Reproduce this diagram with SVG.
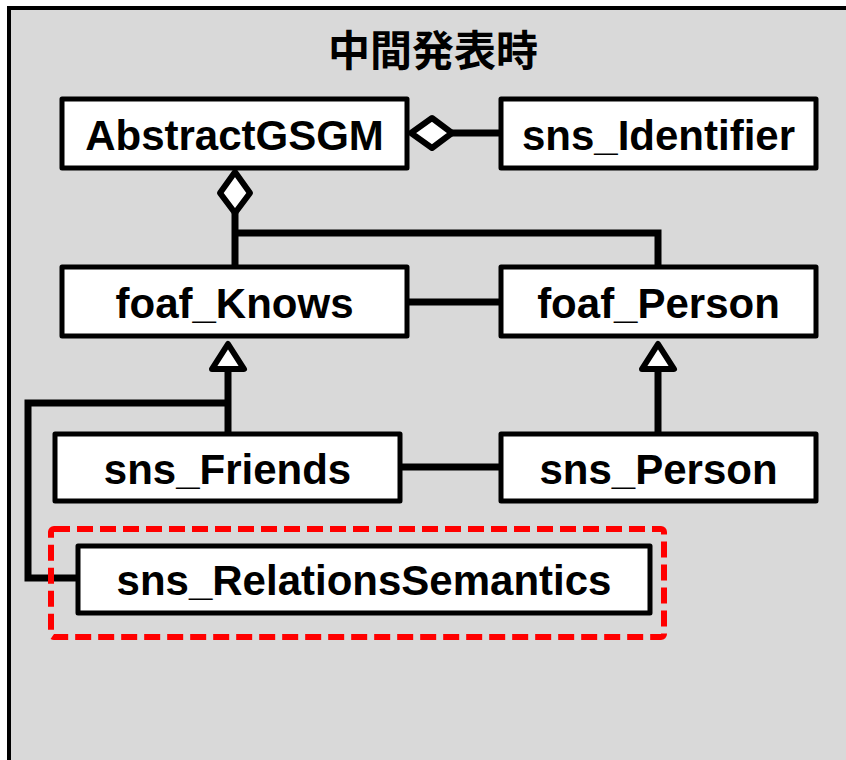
<svg xmlns="http://www.w3.org/2000/svg" width="846" height="760" viewBox="0 0 846 760">
<style>
.box{fill:#fff;stroke:#000;stroke-width:5;stroke-linejoin:round}
.lbl{font-family:"Liberation Sans",Arial,sans-serif;font-weight:bold;font-size:42px;text-anchor:middle;fill:#000}
.ttl{font-family:"Noto Sans CJK JP","Noto Sans CJK SC",sans-serif;font-weight:bold;font-size:42px;text-anchor:middle;fill:#000}
.ln{fill:none;stroke:#000;stroke-width:7;stroke-linejoin:miter}
.head{fill:#fff;stroke:#000;stroke-width:6;stroke-linejoin:round}
</style>
<rect x="0" y="0" width="846" height="760" fill="#fff"/>
<rect id="frame" x="9" y="8" width="900" height="800" fill="#d9d9d9" stroke="#000" stroke-width="4"/>
<text class="ttl" x="433" y="66">中間発表時</text>
<g id="connectors">
<line class="ln" x1="452" y1="133" x2="501" y2="133"/>
<polyline class="ln" points="235,213 235,267"/>
<polyline class="ln" points="235,233 658,233 658,267"/>
<line class="ln" x1="407" y1="302" x2="501" y2="302"/>
<line class="ln" x1="400" y1="467" x2="501" y2="467"/>
<line class="ln" x1="228" y1="368" x2="228" y2="434"/>
<line class="ln" x1="658" y1="368" x2="658" y2="434"/>
<polyline class="ln" points="228,403 28,403 28,578 78,578"/>
<polygon class="head" points="235,172 250,193 235,213 220,193"/>
<polygon class="head" points="411,133 432,118 452,133 432,148"/>
<polygon class="head" points="228,344 244,369 212,369"/>
<polygon class="head" points="658,344 674,369 642,369"/>
</g>
<g id="AbstractGSGM"><rect class="box" x="62" y="99" width="345" height="69"/><text class="lbl" x="234.5" y="150">AbstractGSGM</text></g>
<g id="sns_Identifier"><rect class="box" x="501" y="99" width="315" height="69"/><text class="lbl" x="658.5" y="150">sns_Identifier</text></g>
<g id="foaf_Knows"><rect class="box" x="62" y="267" width="345" height="69"/><text class="lbl" x="234.5" y="318">foaf_Knows</text></g>
<g id="foaf_Person"><rect class="box" x="501" y="267" width="315" height="69"/><text class="lbl" x="658.5" y="318">foaf_Person</text></g>
<g id="sns_Friends"><rect class="box" x="55" y="434" width="345" height="67"/><text class="lbl" x="227.5" y="484">sns_Friends</text></g>
<g id="sns_Person"><rect class="box" x="501" y="434" width="315" height="67"/><text class="lbl" x="658.5" y="484">sns_Person</text></g>
<g id="sns_RelationsSemantics"><rect class="box" x="78" y="546" width="572" height="67"/><text class="lbl" x="364" y="595">sns_RelationsSemantics</text></g>
<rect id="highlight" x="51" y="529" width="613" height="108" rx="3" fill="none" stroke="#f00" stroke-width="6" stroke-dasharray="16 7"/>
</svg>
